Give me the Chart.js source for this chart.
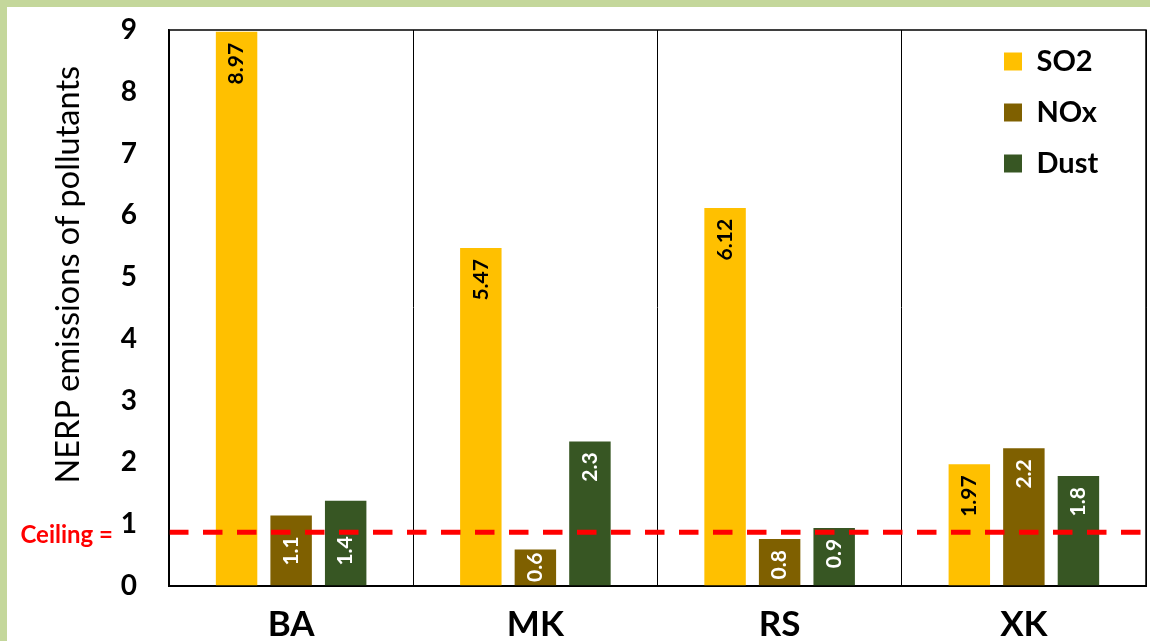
<!DOCTYPE html>
<html>
<head>
<meta charset="utf-8">
<script src="https://cdn.jsdelivr.net/npm/chart.js@4.4.1/dist/chart.umd.min.js"></script>
<style>
  html, body { margin: 0; padding: 0; background: #c4d79b; }
  #frame { position: absolute; left: 7px; top: 7px; right: 0; bottom: 0; background: #fff; }
  #chart { position: absolute; left: 0; top: 0; }
</style>
</head>
<body>
<div id="frame"></div>
<canvas id="chart" width="1150" height="641"></canvas>
<script>
const countries = ["BA", "MK", "RS", "XK"];

const so2 = [8.97, 5.47, 6.12, 1.97];
const nox = [1.14, 0.59, 0.76, 2.23];
const dust = [1.38, 2.34, 0.94, 1.78];

const so2Labels = ["8.97", "5.47", "6.12", "1.97"];
const noxLabels = ["1.1", "0.6", "0.8", "2.2"];
const dustLabels = ["1.4", "2.3", "0.9", "1.8"];

const yMin = 0;
const yMax = 9;
const ceiling = 0.87;

Chart.defaults.font.family = "Lato";
Chart.defaults.color = "#000";

// dashed ceiling line + its label
const ceilingLine = {
  id: "ceilingLine",
  afterDatasetsDraw(chart) {
    const { ctx, chartArea } = chart;
    const y = chart.scales.y.getPixelForValue(ceiling);
    ctx.save();
    ctx.strokeStyle = "#ff0000";
    ctx.lineWidth = 5;
    ctx.setLineDash([19.5, 14.5]);
    ctx.beginPath();
    ctx.moveTo(chartArea.left, y);
    ctx.lineTo(chartArea.right - 2, y);
    ctx.stroke();
    ctx.setLineDash([]);
    ctx.fillStyle = "#ff0000";
    ctx.font = "bold 24px Lato";
    ctx.textAlign = "right";
    ctx.textBaseline = "alphabetic";
    ctx.fillText("Ceiling =", chartArea.left - 56, y + 11);
    ctx.restore();
  }
};

// rotated value labels inside the bars, kept clear of the ceiling line
const barLabels = {
  id: "barLabels",
  afterDatasetsDraw(chart) {
    const ctx = chart.ctx;
    const lineY = chart.scales.y.getPixelForValue(ceiling);
    const base = chart.scales.y.getPixelForValue(0);
    ctx.save();
    ctx.font = "bold 21px Lato";
    ctx.textAlign = "right";
    ctx.textBaseline = "middle";
    chart.data.datasets.forEach((ds, i) => {
      chart.getDatasetMeta(i).data.forEach((bar, j) => {
        const text = ds.valueLabels[j];
        const len = ctx.measureText(text).width;
        let top = bar.y + 11;
        if (top < lineY + 4 && top + len > lineY - 4) top = lineY + 4;
        if (top + len > base - 4) top = base - 4 - len;
        ctx.save();
        ctx.translate(bar.x, top);
        ctx.rotate(-Math.PI / 2);
        ctx.fillStyle = ds.labelColor;
        ctx.fillText(text, 0, 0);
        ctx.restore();
      });
    });
    ctx.restore();
  }
};

// box round the plot area, and the legend moved to the top right corner
const plotBox = {
  id: "plotBox",
  afterLayout(chart) {
    chart.legend.left = chart.chartArea.right - 164;
    chart.legend.top = chart.chartArea.top - 5;
  },
  afterDraw(chart) {
    const { ctx, chartArea } = chart;
    ctx.save();
    ctx.strokeStyle = "#000";
    ctx.lineWidth = 1.5;
    ctx.strokeRect(chartArea.left, chartArea.top, chartArea.width, chartArea.height);
    ctx.restore();
  }
};

new Chart(document.getElementById("chart"), {
  type: "bar",
  data: {
    labels: countries,
    datasets: [
      { label: "SO2", data: so2, valueLabels: so2Labels, backgroundColor: "#ffc000", labelColor: "#000" },
      { label: "NOx", data: nox, valueLabels: noxLabels, backgroundColor: "#7f6000", labelColor: "#fff" },
      { label: "Dust", data: dust, valueLabels: dustLabels, backgroundColor: "#375623", labelColor: "#fff" }
    ]
  },
  options: {
    responsive: false,
    animation: false,
    categoryPercentage: 0.67,
    barPercentage: 0.76,
    layout: { padding: { top: 30, right: 4, left: 0, bottom: 0 } },
    plugins: {
      legend: {
        position: "chartArea",
        align: "start",
        labels: {
          boxWidth: 18,
          boxHeight: 18,
          padding: 22,
          font: { size: 29, weight: "bold" }
        }
      },
      tooltip: { enabled: false }
    },
    scales: {
      x: {
        grid: { color: "#000", lineWidth: 1, drawTicks: false, offset: true },
        border: { color: "#000", width: 2 },
        ticks: { padding: 18, font: { size: 35, weight: "bold" } },
        afterFit(scale) { scale.height = 55; }
      },
      y: {
        min: yMin,
        max: yMax,
        grid: { display: false, drawTicks: false },
        border: { color: "#000", width: 1.5 },
        ticks: { stepSize: 1, padding: 32, font: { size: 28, weight: "bold" } },
        title: {
          display: true,
          text: "        NERP emissions of pollutants",
          font: { size: 32.5 },
          padding: { top: 49, bottom: 0 }
        },
        afterFit(scale) {
          scale.width = 169;
          scale.paddingTop = 0;
          scale.paddingBottom = 0;
        }
      }
    }
  },
  plugins: [ceilingLine, barLabels, plotBox]
});
</script>
</body>
</html>
